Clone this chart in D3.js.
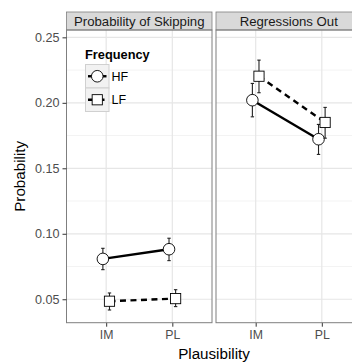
<!DOCTYPE html>
<html>
<head>
<meta charset="utf-8">
<script src="https://cdn.jsdelivr.net/npm/d3@7"></script>
<style>
  body { margin: 0; background: #fff; }
  text { font-family: "Liberation Sans", Arial, sans-serif; }
</style>
</head>
<body>
<div id="chart"></div>
<script>
// data
var panels = ["Probability of Skipping", "Regressions Out"];
var plausibility = ["IM", "PL"];
var frequency = ["HF", "LF"];

// mean, lower, upper per panel, per frequency, per plausibility (IM, PL)
var skipHF = [0.0808, 0.0882];
var skipHFlo = [0.0726, 0.0795];
var skipHFhi = [0.0889, 0.0966];
var skipLF = [0.0485, 0.0505];
var skipLFlo = [0.0418, 0.0444];
var skipLFhi = [0.0548, 0.0573];

var regHF = [0.2020, 0.1722];
var regHFlo = [0.1893, 0.1606];
var regHFhi = [0.2148, 0.1835];
var regLF = [0.2203, 0.1850];
var regLFlo = [0.2077, 0.1730];
var regLFhi = [0.2326, 0.1965];

var yTicks = [0.05, 0.10, 0.15, 0.20, 0.25];
var yMinor = [0.075, 0.125, 0.175, 0.225];

function rows(panel, freq, m, lo, hi) {
  return plausibility.map(function(p, i) {
    return {panel: panel, freq: freq, plaus: p, mean: m[i], lo: lo[i], hi: hi[i]};
  });
}

var series = [
  rows(0, "HF", skipHF, skipHFlo, skipHFhi),
  rows(0, "LF", skipLF, skipLFlo, skipLFhi),
  rows(1, "HF", regHF, regHFlo, regHFhi),
  rows(1, "LF", regLF, regLFlo, regLFhi)
];

// layout
var W = 352, H = 362;
var plotTop = 30, plotBottom = 322.7;
var panelW = 145.5, panelGap = 4, firstLeft = 66.5;
var stripH = 18;
var dodge = 3.3;
var dash = "6,4.5";

var svg = d3.select("#chart").append("svg")
  .attr("width", W).attr("height", H);

var y = d3.scaleLinear().domain([0.0321, 0.2556]).range([plotBottom, plotTop]);

var gridCol = "#e6e6e6", minorCol = "#f3f3f3", borderCol = "#7f7f7f";

panels.forEach(function(name, pi) {
  var left = firstLeft + pi * (panelW + panelGap);
  var x = d3.scalePoint().domain(plausibility).range([left, left + panelW]).padding(0.6);

  var g = svg.append("g");

  g.append("rect").attr("x", left).attr("y", plotTop)
    .attr("width", panelW).attr("height", plotBottom - plotTop).attr("fill", "#fff");

  // minor grid
  g.selectAll(".minor").data(yMinor).enter().append("line")
    .attr("x1", left).attr("x2", left + panelW)
    .attr("y1", function(d) { return y(d); }).attr("y2", function(d) { return y(d); })
    .attr("stroke", minorCol).attr("stroke-width", 1);

  // major grid
  g.selectAll(".hmajor").data(yTicks).enter().append("line")
    .attr("x1", left).attr("x2", left + panelW)
    .attr("y1", function(d) { return y(d); }).attr("y2", function(d) { return y(d); })
    .attr("stroke", gridCol).attr("stroke-width", 1.2);
  g.selectAll(".vmajor").data(plausibility).enter().append("line")
    .attr("y1", plotTop).attr("y2", plotBottom)
    .attr("x1", function(d) { return x(d); }).attr("x2", function(d) { return x(d); })
    .attr("stroke", gridCol).attr("stroke-width", 1.2);

  // strip
  g.append("rect").attr("x", left).attr("y", plotTop - stripH)
    .attr("width", panelW).attr("height", stripH)
    .attr("fill", "#d9d9d9").attr("stroke", borderCol).attr("stroke-width", 0.8);
  g.append("text").attr("x", left + panelW / 2).attr("y", plotTop - 4.5)
    .attr("text-anchor", "middle").attr("font-size", 13.2).attr("fill", "#1a1a1a")
    .text(name);

  // x axis ticks + labels
  var xa = g.append("g").attr("transform", "translate(0," + plotBottom + ")")
    .call(d3.axisBottom(x).tickSize(4).tickPadding(4));
  xa.select(".domain").remove();
  xa.selectAll("line").attr("stroke", "#333").attr("stroke-width", 1);
  xa.selectAll("text").attr("font-size", 12.3).attr("fill", "#4d4d4d")
    .attr("font-family", "Liberation Sans, Arial, sans-serif");

  // data
  var data = series.filter(function(s) { return s[0].panel === pi; });
  data.forEach(function(s) {
    var hf = s[0].freq === "HF";
    var off = hf ? -dodge : dodge;
    var px = function(d) { return x(d.plaus) + off; };

    g.append("path").datum(s)
      .attr("d", d3.line().x(px).y(function(d) { return y(d.mean); }))
      .attr("fill", "none").attr("stroke", "#000")
      .attr("stroke-width", 2.4)
      .attr("stroke-dasharray", hf ? null : dash);

    var eb = g.selectAll(null).data(s).enter().append("g").attr("stroke", "#222").attr("stroke-width", 1.1);
    eb.append("line").attr("x1", px).attr("x2", px)
      .attr("y1", function(d) { return y(d.lo); }).attr("y2", function(d) { return y(d.hi); });
    eb.append("line").attr("x1", function(d) { return px(d) - 1.7; }).attr("x2", function(d) { return px(d) + 1.7; })
      .attr("y1", function(d) { return y(d.lo); }).attr("y2", function(d) { return y(d.lo); });
    eb.append("line").attr("x1", function(d) { return px(d) - 1.7; }).attr("x2", function(d) { return px(d) + 1.7; })
      .attr("y1", function(d) { return y(d.hi); }).attr("y2", function(d) { return y(d.hi); });

    if (hf) {
      g.selectAll(null).data(s).enter().append("circle")
        .attr("cx", px).attr("cy", function(d) { return y(d.mean); }).attr("r", 5.8)
        .attr("fill", "#fff").attr("stroke", "#000").attr("stroke-width", 0.9);
    } else {
      g.selectAll(null).data(s).enter().append("rect")
        .attr("x", function(d) { return px(d) - 5.1; }).attr("y", function(d) { return y(d.mean) - 5.1; })
        .attr("width", 10.2).attr("height", 10.2)
        .attr("fill", "#fff").attr("stroke", "#000").attr("stroke-width", 0.9);
    }
  });

  // panel border
  g.append("rect").attr("x", left).attr("y", plotTop)
    .attr("width", panelW).attr("height", plotBottom - plotTop)
    .attr("fill", "none").attr("stroke", borderCol).attr("stroke-width", 1);
});

// y axis
var ya = svg.append("g").attr("transform", "translate(" + firstLeft + ",0)")
  .call(d3.axisLeft(y).tickValues(yTicks).tickFormat(d3.format(".2f")).tickSize(4).tickPadding(3));
ya.select(".domain").remove();
ya.selectAll("line").attr("stroke", "#333").attr("stroke-width", 1);
ya.selectAll("text").attr("font-size", 12.6).attr("fill", "#4d4d4d")
  .attr("font-family", "Liberation Sans, Arial, sans-serif");

// axis titles
svg.append("text").attr("x", firstLeft + panelW + panelGap / 2).attr("y", 359)
  .attr("text-anchor", "middle").attr("font-size", 15.2).attr("fill", "#000").text("Plausibility");
svg.append("text").attr("transform", "translate(25," + ((plotTop + plotBottom) / 2) + ") rotate(-90)")
  .attr("text-anchor", "middle").attr("font-size", 15.2).attr("fill", "#000").text("Probability");

// legend
var lg = svg.append("g");
lg.append("text").attr("x", 85).attr("y", 58.5).attr("font-size", 12.8).attr("font-weight", "bold")
  .attr("fill", "#000").text("Frequency");
var keyX = 85.5, keyY = 64.5, keyS = 23.5;
frequency.forEach(function(f, i) {
  var ky = keyY + i * keyS;
  lg.append("rect").attr("x", keyX).attr("y", ky).attr("width", keyS).attr("height", keyS)
    .attr("fill", "#f2f2f2").attr("stroke", "#d0d0d0").attr("stroke-width", 1);
  var cy = ky + keyS / 2, cx = keyX + keyS / 2;
  lg.append("line").attr("x1", keyX + 2.5).attr("x2", keyX + keyS - 2.5).attr("y1", cy).attr("y2", cy)
    .attr("stroke", "#000").attr("stroke-width", 2.4)
    .attr("stroke-dasharray", f === "HF" ? null : dash);
  if (f === "HF") {
    lg.append("circle").attr("cx", cx).attr("cy", cy).attr("r", 5.8)
      .attr("fill", "#fff").attr("stroke", "#000").attr("stroke-width", 0.9);
  } else {
    lg.append("rect").attr("x", cx - 5.1).attr("y", cy - 5.1).attr("width", 10.2).attr("height", 10.2)
      .attr("fill", "#fff").attr("stroke", "#000").attr("stroke-width", 0.9);
  }
  lg.append("text").attr("x", keyX + keyS + 2.5).attr("y", cy + 4.5).attr("font-size", 12.5)
    .attr("fill", "#000").text(f);
});
</script>
</body>
</html>
